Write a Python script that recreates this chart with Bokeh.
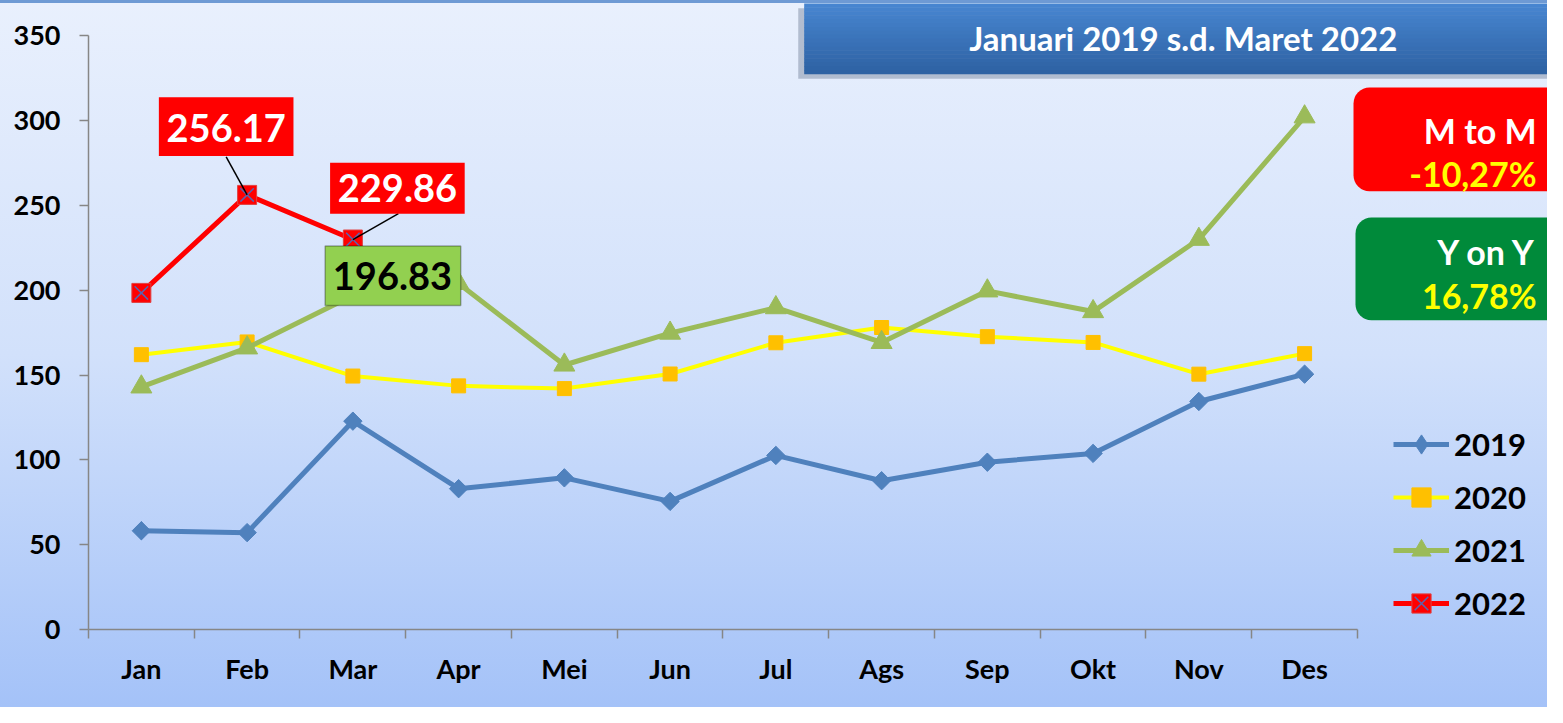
from bokeh.plotting import figure
from bokeh.models import (Range1d, FixedTicker, BoxAnnotation, Label, Legend, LegendItem)
from bokeh.embed import file_html
from bokeh.resources import INLINE

# ---- data ----
months = ["Jan", "Feb", "Mar", "Apr", "Mei", "Jun", "Jul", "Ags", "Sep", "Okt", "Nov", "Des"]
v2019 = [58.2, 57.1, 122.8, 83.0, 89.4, 75.5, 102.6, 87.7, 98.6, 103.8, 134.4, 150.5]
v2020 = [162.0, 169.5, 149.4, 143.6, 142.0, 150.6, 169.0, 178.0, 172.6, 169.2, 150.5, 162.6]
v2021 = [143.0, 166.0, 196.83, 204.0, 155.9, 174.7, 189.7, 169.2, 199.6, 187.4, 230.0, 302.2]
v2022 = [198.4, 256.17, 229.86]
y_ticks = [0, 50, 100, 150, 200, 250, 300, 350]
title_text = "Januari 2019 s.d. Maret 2022"
mtom_title, mtom_value = "M to M", "-10,27%"
yony_title, yony_value = "Y on Y", "16,78%"

xs = [i + 0.5 for i in range(len(months))]

# ---- layout helpers (reference pixel -> figure pixel -> data coords) ----
W, H = 1547, 707
SX, SY = W / 1563.0, H / 723.0
def fx(rx):
    return rx * SX
def fy(ry):
    return ry * SY
L = round(fx(89))          # frame left (figure px)
B = round(fy(643))         # frame bottom (figure px from top)
PX_X = (fx(1371) - L) / 12.0
PX_Y = (B - fy(36)) / 350.0
def dx(rx):
    return (fx(rx) - L) / PX_X
def dy(ry):
    return (B - fy(ry)) / PX_Y

FONT = "Lato"

p = figure(width=W, height=H, x_range=Range1d(0, (W - L) / PX_X), y_range=Range1d(0, B / PX_Y),
           output_backend="svg", toolbar_location=None,
           min_border_left=L, min_border_right=0, min_border_top=0, min_border_bottom=H - B)
p.background_fill_alpha = 0
p.border_fill_alpha = 0
p.outline_line_color = None
p.styles = {"background": "linear-gradient(to bottom, #e9f0fd 0%, #d2e1fb 50%, #a4c2f8 100%)",
            "box-shadow": "inset 0 3px 0 0 #6e9ad4"}
p.xgrid.visible = False
p.ygrid.visible = False

# axes
yax = p.yaxis[0]
yax.ticker = FixedTicker(ticks=y_ticks)
yax.bounds = (0, 350)
yax.axis_line_color = "#868686"
yax.axis_line_width = 1.5
yax.major_tick_line_color = "#868686"
yax.major_tick_line_width = 1.5
yax.major_tick_out = 9
yax.major_tick_in = 0
yax.minor_tick_line_color = None
yax.major_label_text_font = FONT
yax.major_label_text_font_style = "bold"
yax.major_label_text_font_size = "27px"
yax.major_label_text_color = "black"
yax.major_label_standoff = 19

xax = p.xaxis[0]
xax.ticker = FixedTicker(ticks=xs, minor_ticks=list(range(len(months) + 1)))
xax.bounds = (0, len(months))
xax.major_label_overrides = {x: m for x, m in zip(xs, months)}
xax.axis_line_color = "#868686"
xax.axis_line_width = 1.5
xax.major_tick_line_color = None
xax.major_tick_out = 0
xax.major_tick_in = 0
xax.minor_tick_line_color = "#868686"
xax.minor_tick_line_width = 1.5
xax.minor_tick_out = 9
xax.minor_tick_in = 0
xax.major_label_text_font = FONT
xax.major_label_text_font_style = "bold"
xax.major_label_text_font_size = "27px"
xax.major_label_text_color = "black"
xax.major_label_standoff = 13

# title box (shadow + vertical gradient)
p.add_layout(BoxAnnotation(left=dx(806), right=dx(1600), top=dy(8), bottom=dy(80),
                           fill_color="#50607a", fill_alpha=0.35, line_color=None))
top_c, bot_c = (0x47, 0x85, 0xd0), (0x2e, 0x62, 0xa3)
n_bands = 18
for i in range(n_bands):
    t = i / (n_bands - 1)
    c = tuple(round(top_c[k] + (bot_c[k] - top_c[k]) * t) for k in range(3))
    y0 = 3 + (75 - 3) * i / n_bands
    y1 = 3 + (75 - 3) * (i + 1) / n_bands
    p.add_layout(BoxAnnotation(left=dx(812), right=dx(1600), top=dy(y0), bottom=dy(y1 + 0.5),
                               fill_color="#%02x%02x%02x" % c, fill_alpha=1, line_color=None))
p.add_layout(Label(x=dx(1195), y=dy(38), text=title_text, text_align="center", text_baseline="middle",
                   text_font=FONT, text_font_style="bold", text_font_size="33px", text_color="white"))

# M to M / Y on Y boxes
p.add_layout(BoxAnnotation(left=dx(1367), right=dx(1620), top=dy(89), bottom=dy(195),
                           fill_color="#ff0000", fill_alpha=1, line_color=None, border_radius=16))
p.add_layout(BoxAnnotation(left=dx(1369), right=dx(1620), top=dy(222), bottom=dy(327),
                           fill_color="#008a3a", fill_alpha=1, line_color=None, border_radius=16))
for txt, yy, col in [(mtom_title, 133, "white"), (mtom_value, 177, "#ffff00"),
                     (yony_title, 257, "white"), (yony_value, 302, "#ffff00")]:
    p.add_layout(Label(x=dx(1552), y=dy(yy), text=txt, text_align="right", text_baseline="alphabetic",
                       text_font=FONT, text_font_style="bold", text_font_size="34px", text_color=col))

# series
l19 = p.line(xs, v2019, line_color="#4f81bd", line_width=5)
# diamond swatch used by the legend; sits hidden under the first 2019 marker
lg19 = p.scatter(xs[:1], v2019[:1], marker="diamond", size=18, fill_color="#4f81bd", line_color="#4f81bd")
m19 = p.scatter(xs, v2019, marker="square", angle=0.785398, size=13, fill_color="#4f81bd", line_color="#4f81bd")
l20 = p.line(xs, v2020, line_color="#ffff00", line_width=4)
m20 = p.scatter(xs, v2020, marker="square", size=14, fill_color="#ffc000", line_color="#ffc000")
l21 = p.line(xs, v2021, line_color="#9bbb59", line_width=5)
m21 = p.scatter(xs, v2021, marker="triangle", size=21, fill_color="#9bbb59", line_color="#9bbb59")
x22 = xs[:len(v2022)]
l22 = p.line(x22, v2022, line_color="#ff0000", line_width=5)
m22 = p.scatter(x22, v2022, marker="square", size=19, fill_color="#ff0000", line_color="#e04040")
x22m = p.scatter(x22, v2022, marker="x", size=19, line_color="#5a64b0", line_width=1.5)

# data labels with leader lines
p.segment(x0=[dx(228), dx(402)], y0=[dy(160), dy(218)], x1=[x22[1], x22[2]], y1=[v2022[1], v2022[2]],
          line_color="black", line_width=1.5)
p.add_layout(BoxAnnotation(left=dx(160), right=dx(296), top=dy(99), bottom=dy(159),
                           fill_color="#ff0000", fill_alpha=1, line_color=None))
p.add_layout(Label(x=dx(228), y=dy(130), text=f"{v2022[1]:.2f}", text_align="center", text_baseline="middle",
                   text_font=FONT, text_font_style="bold", text_font_size="38px", text_color="white"))
p.add_layout(BoxAnnotation(left=dx(333), right=dx(469), top=dy(166), bottom=dy(218),
                           fill_color="#ff0000", fill_alpha=1, line_color=None))
p.add_layout(Label(x=dx(401), y=dy(192), text=f"{v2022[2]:.2f}", text_align="center", text_baseline="middle",
                   text_font=FONT, text_font_style="bold", text_font_size="38px", text_color="white"))
p.add_layout(BoxAnnotation(left=dx(328), right=dx(465), top=dy(251), bottom=dy(312),
                           fill_color="#92d050", fill_alpha=1, line_color="black", line_width=1.5))
p.add_layout(Label(x=dx(396), y=dy(282), text=f"{v2021[2]:.2f}", text_align="center", text_baseline="middle",
                   text_font=FONT, text_font_style="bold", text_font_size="38px", text_color="black"))

# legend
legend = Legend(items=[LegendItem(label="2019", renderers=[l19, lg19]),
                       LegendItem(label="2020", renderers=[l20, m20]),
                       LegendItem(label="2021", renderers=[l21, m21]),
                       LegendItem(label="2022", renderers=[l22, m22, x22m])],
                location=(round(fx(1407) - L), round(B - fy(641))), orientation="vertical",
                glyph_width=56, glyph_height=48, label_height=48, spacing=5,
                label_standoff=5, padding=0, margin=0,
                label_text_font=FONT, label_text_font_style="bold", label_text_font_size="31px",
                label_text_color="black", border_line_color=None, background_fill_alpha=0)
p.add_layout(legend)

open("out.html", "w").write(file_html(p, INLINE))
